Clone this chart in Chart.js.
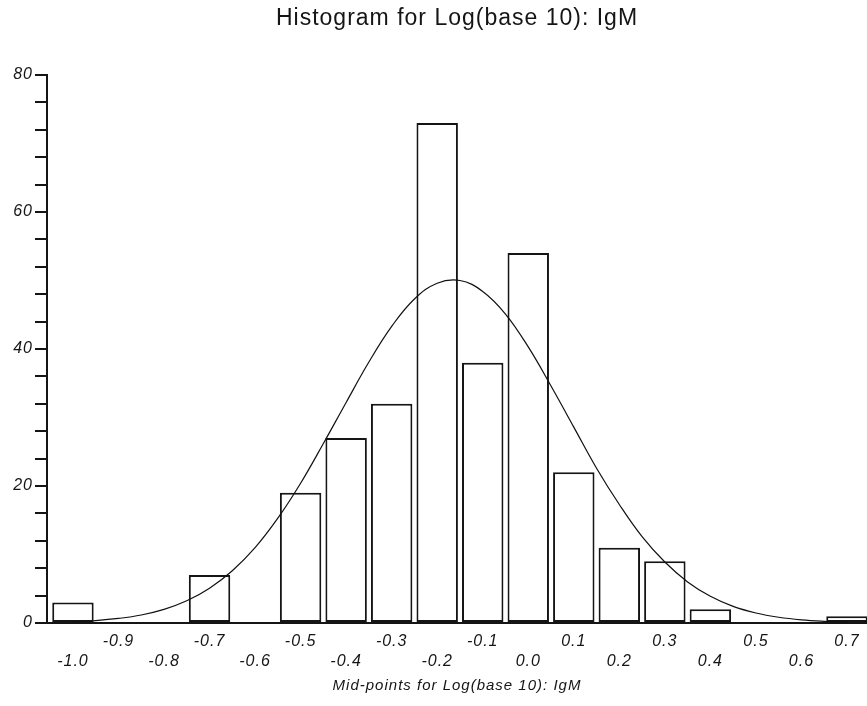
<!DOCTYPE html>
<html>
<head>
<meta charset="utf-8">
<script src="https://cdn.jsdelivr.net/npm/chart.js@4/dist/chart.umd.min.js"></script>
<style>
  html, body { margin: 0; padding: 0; background: #fff; }
  #wrap { width: 867px; height: 706px; }
</style>
</head>
<body>
<div id="wrap"><canvas id="chart"></canvas></div>
<script>
// histogram bins (mid-points) and counts
const midPoints = [-1.0, -0.9, -0.8, -0.7, -0.6, -0.5, -0.4, -0.3, -0.2, -0.1, 0.0, 0.1, 0.2, 0.3, 0.4, 0.5, 0.6, 0.7];
const counts = [3, 0, 0, 7, 0, 19, 27, 32, 73, 38, 54, 22, 11, 9, 2, 0, 0, 1];

// fitted normal curve
const curveX = [-1.0, -0.95, -0.9, -0.85, -0.8, -0.75, -0.7, -0.65, -0.6, -0.55, -0.5, -0.45, -0.4, -0.35, -0.3, -0.25, -0.2, -0.15,
  -0.1, -0.05, 0.0, 0.05, 0.1, 0.15, 0.2, 0.25, 0.3, 0.35, 0.4, 0.45, 0.5, 0.55, 0.6, 0.65, 0.7];
const curveY = [0.19, 0.36, 0.67, 1.17, 1.99, 3.24, 5.08, 7.63, 11.0, 15.3, 20.4, 26.2, 32.2, 38.1, 43.3, 47.3, 49.6, 50.0,
  48.4, 45.1, 40.3, 34.6, 28.6, 22.6, 17.3, 12.6, 8.9, 6.0, 3.9, 2.43, 1.46, 0.84, 0.46, 0.25, 0.13];

const xTicks = midPoints;
const yLabels = [0, 20, 40, 60, 80];

const fontFam = "'Liberation Sans', Arial, sans-serif";
const ink = "#151515";

const canvas = document.getElementById("chart").getContext("2d");

// the original text is set a bit wider than plain Arial
const wideText = {
  id: "wideText",
  beforeDraw(chart) { chart.ctx.letterSpacing = "1px"; }
};

const data = {
  datasets: [
    {
      type: "line",
      data: curveX.map((x, i) => ({ x: x, y: curveY[i] })),
      borderColor: "#111",
      borderWidth: 1.2,
      pointRadius: 0,
      tension: 0.4,
      fill: false,
      order: 0
    },
    {
      type: "bar",
      data: midPoints.map((m, i) => ({ x: m, y: counts[i] > 0 ? counts[i] : null })),
      backgroundColor: "#fff",
      borderColor: ink,
      borderWidth: 2,
      borderSkipped: false,
      barPercentage: 0.91,
      categoryPercentage: 1.0,
      order: 1
    }
  ]
};

const config = {
  type: "bar",
  data: data,
  plugins: [wideText],
  options: {
    responsive: true,
    maintainAspectRatio: false,
    animation: false,
    layout: { padding: 0 },
    plugins: {
      legend: { display: false },
      tooltip: { enabled: false },
      title: {
        display: true,
        text: "Histogram for Log(base 10): IgM",
        fullSize: false,
        color: ink,
        font: { family: fontFam, size: 23, weight: "normal", lineHeight: 1.2 },
        padding: { top: 5, bottom: 42.4 }
      }
    },
    scales: {
      x: {
        type: "linear",
        min: -1.057,
        max: 0.744,
        offset: false,
        afterBuildTicks: (s) => { s.ticks = xTicks.map(v => ({ value: v })); },
        afterFit: (s) => { s.height = 83; },
        grid: { display: false },
        border: { display: true, color: ink, width: 2 },
        ticks: {
          autoSkip: false,
          maxRotation: 0,
          padding: 1,
          color: ink,
          font: { family: fontFam, size: 16, style: "italic", lineHeight: 1.25 },
          callback: (v, i) => {
            const lab = xTicks[i].toFixed(1);
            return i % 2 === 1 ? [lab, ""] : ["", lab];
          }
        },
        title: {
          display: true,
          text: "Mid-points for Log(base 10): IgM",
          color: ink,
          font: { family: fontFam, size: 15, style: "italic", lineHeight: 1.2 },
          padding: { top: 0, bottom: 11 }
        }
      },
      y: {
        min: 0,
        max: 80,
        afterFit: (s) => { s.width = 47; },
        grid: { drawOnChartArea: false, drawTicks: true, tickLength: 12, color: ink, lineWidth: 2 },
        border: { display: true, color: ink, width: 2 },
        ticks: {
          stepSize: 4,
          padding: 2,
          color: ink,
          font: { family: fontFam, size: 16, style: "italic" },
          callback: (v) => (yLabels.includes(v) ? String(v) : "")
        }
      }
    }
  }
};

const chart = new Chart(canvas, config);
</script>
</body>
</html>
